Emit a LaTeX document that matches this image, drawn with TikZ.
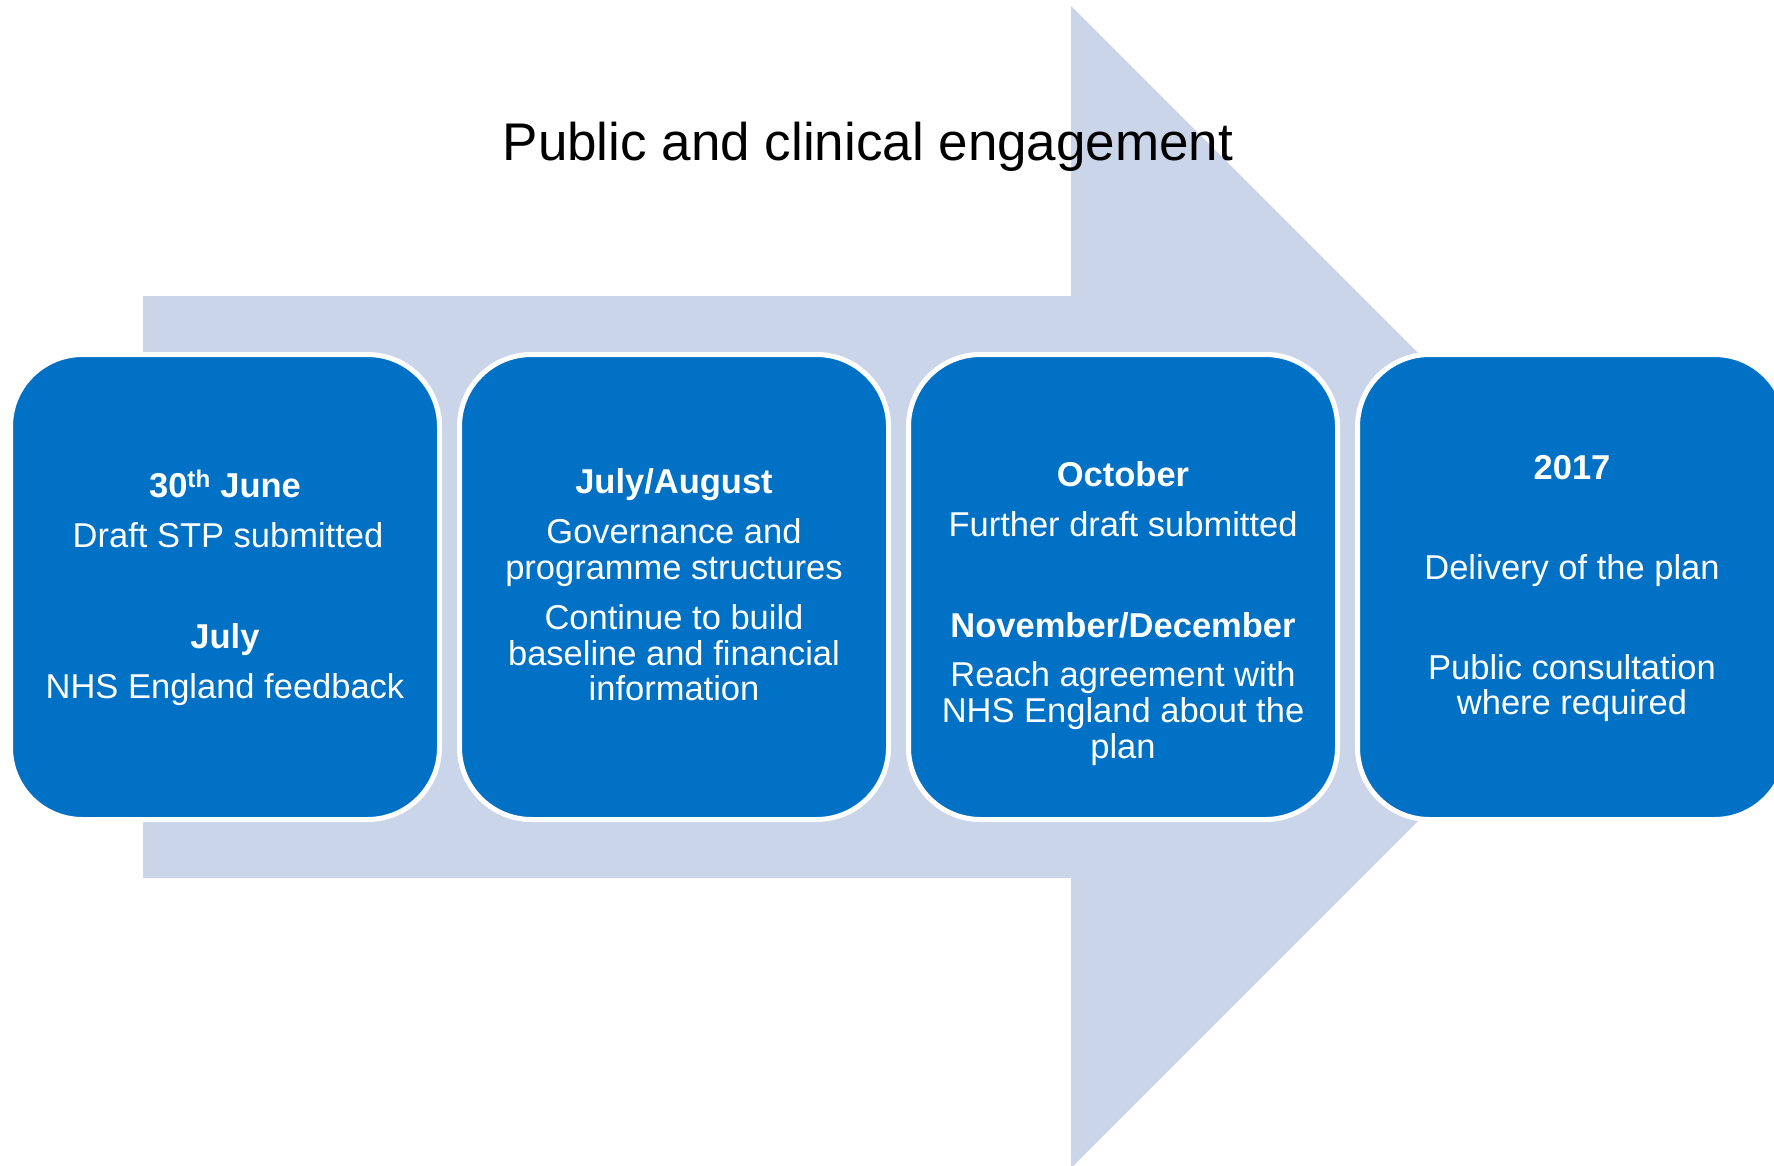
\documentclass[tikz,border=0pt]{standalone}
\usepackage{fontspec}
\setmainfont{Liberation Sans}
\definecolor{arrowblue}{RGB}{203,213,233}
\definecolor{boxblue}{RGB}{0,113,197}
\begin{document}
\begin{tikzpicture}[x=1pt,y=-1pt,
  stagebox/.style={draw=white, line width=5pt, fill=boxblue, rounded corners=72pt,
    minimum width=429pt, minimum height=465pt, inner sep=0pt},
  txt/.style={text=white, anchor=base, inner sep=0pt, font=\fontsize{34.5}{36}\selectfont},
  hd/.style={txt, font=\fontsize{34.5}{36}\selectfont\bfseries}]
\clip (0,0) rectangle (1774,1166);
\fill[white] (0,0) rectangle (1774,1166);
% big background arrow
\fill[arrowblue] (143,296) -- (1071,296) -- (1071,6) -- (1652,587) -- (1071,1168) -- (1071,878) -- (143,878) -- cycle;
% title
\node[anchor=base, inner sep=0pt, font=\fontsize{53}{60}\selectfont] (title) at (868,161) {Public and clinical engagement};
% boxes
\node[stagebox] (b1) at (225,587) {};
\node[stagebox] (b2) at (674,587) {};
\node[stagebox] (b3) at (1123,587) {};
\node[stagebox] (b4) at (1572,587) {};
% box 1
\node[hd] (t11) at (225,497) {30\textsuperscript{th} June};
\node[txt] (t12) at (228,547) {Draft STP submitted};
\node[hd] (t13) at (225,648) {July};
\node[txt] (t14) at (225,698) {NHS England feedback};
% box 2
\node[hd] (t21) at (674,493) {July/August};
\node[txt] (t22) at (674,543) {Governance and};
\node[txt] (t23) at (674,579) {programme structures};
\node[txt] (t24) at (674,629) {Continue to build};
\node[txt] (t25) at (674,665) {baseline and financial};
\node[txt] (t26) at (674,700) {information};
% box 3
\node[hd] (t31) at (1123,486) {October};
\node[txt] (t32) at (1123,536) {Further draft submitted};
\node[hd] (t33) at (1123,637) {November/December};
\node[txt] (t34) at (1123,686) {Reach agreement with};
\node[txt] (t35) at (1123,722) {NHS England about the};
\node[txt] (t36) at (1123,758) {plan};
% box 4
\node[hd] (t41) at (1572,479) {2017};
\node[txt] (t42) at (1572,579) {Delivery of the plan};
\node[txt] (t43) at (1572,679) {Public consultation};
\node[txt] (t44) at (1572,714) {where required};
\end{tikzpicture}
\end{document}
